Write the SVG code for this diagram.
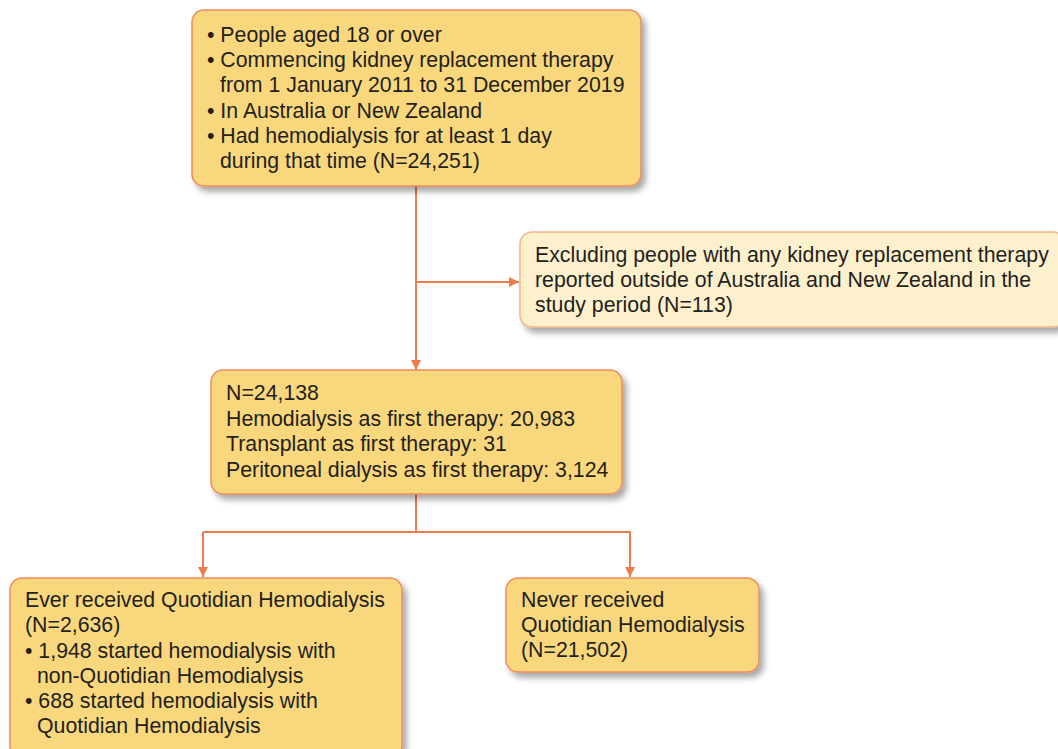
<svg xmlns="http://www.w3.org/2000/svg" width="1058" height="749" viewBox="0 0 1058 749">
<defs>
<style>
.box{fill:#F9D77B;stroke:#EE8C5C;stroke-width:1.5;filter:url(#sh)}
.box2{fill:#FDF0CC;stroke:#F3B48D;stroke-width:1.5;filter:url(#sh)}
text{font-family:"Liberation Sans",Arial,sans-serif;font-size:21.3px;fill:#231F20}
.ln{fill:none;stroke:#EE7D4E;stroke-width:2}
</style>
<filter id="sh" x="-10%" y="-10%" width="130%" height="140%">
<feGaussianBlur in="SourceAlpha" stdDeviation="3"/>
<feOffset dx="4" dy="5" result="b"/>
<feComponentTransfer><feFuncA type="linear" slope="0.35"/></feComponentTransfer>
<feMerge><feMergeNode/><feMergeNode in="SourceGraphic"/></feMerge>
</filter>
<marker id="ah" viewBox="0 0 10 10" refX="10" refY="5" markerWidth="10" markerHeight="10" markerUnits="userSpaceOnUse" orient="auto">
<path d="M0,0 L10,5 L0,10 Z" fill="#EE7D4E"/>
</marker>
</defs>
<rect width="1058" height="749" fill="#FFFFFF"/>
<g id="connectors">
<line class="ln" x1="416" y1="186" x2="416" y2="370" marker-end="url(#ah)"/>
<line class="ln" x1="416" y1="282" x2="519" y2="282" marker-end="url(#ah)"/>
<line class="ln" x1="416" y1="494" x2="416" y2="532"/>
<polyline class="ln" points="203,532 630,532 630,577" marker-end="url(#ah)"/>
<line class="ln" x1="203" y1="532" x2="203" y2="577" marker-end="url(#ah)"/>
</g>
<g id="inclusion">
<rect class="box" x="192" y="10" width="449" height="176" rx="12"/>
<text x="207" y="42">• People aged 18 or over</text>
<text x="207" y="67">• Commencing kidney replacement therapy</text>
<text x="220" y="92">from 1 January 2011 to 31 December 2019</text>
<text x="207" y="118">• In Australia or New Zealand</text>
<text x="207" y="143">• Had hemodialysis for at least 1 day</text>
<text x="220" y="168">during that time (N=24,251)</text>
</g>
<g id="exclusion">
<rect class="box2" x="520" y="232" width="545" height="95" rx="12"/>
<text x="535" y="262">Excluding people with any kidney replacement therapy</text>
<text x="535" y="287">reported outside of Australia and New Zealand in the</text>
<text x="535" y="312">study period (N=113)</text>
</g>
<g id="cohort">
<rect class="box" x="211" y="370" width="411" height="124" rx="12"/>
<text x="226" y="400">N=24,138</text>
<text x="226" y="425.5">Hemodialysis as first therapy: 20,983</text>
<text x="226" y="451">Transplant as first therapy: 31</text>
<text x="226" y="476.5">Peritoneal dialysis as first therapy: 3,124</text>
</g>
<g id="ever">
<rect class="box" x="10" y="578" width="392" height="180" rx="12"/>
<text x="25" y="607">Ever received Quotidian Hemodialysis</text>
<text x="25" y="632">(N=2,636)</text>
<text x="25" y="658">• 1,948 started hemodialysis with</text>
<text x="37" y="683">non-Quotidian Hemodialysis</text>
<text x="25" y="708">• 688 started hemodialysis with</text>
<text x="37" y="733">Quotidian Hemodialysis</text>
</g>
<g id="never">
<rect class="box" x="506" y="578" width="253" height="94" rx="12"/>
<text x="521" y="607">Never received</text>
<text x="521" y="632">Quotidian Hemodialysis</text>
<text x="521" y="657">(N=21,502)</text>
</g>
</svg>
